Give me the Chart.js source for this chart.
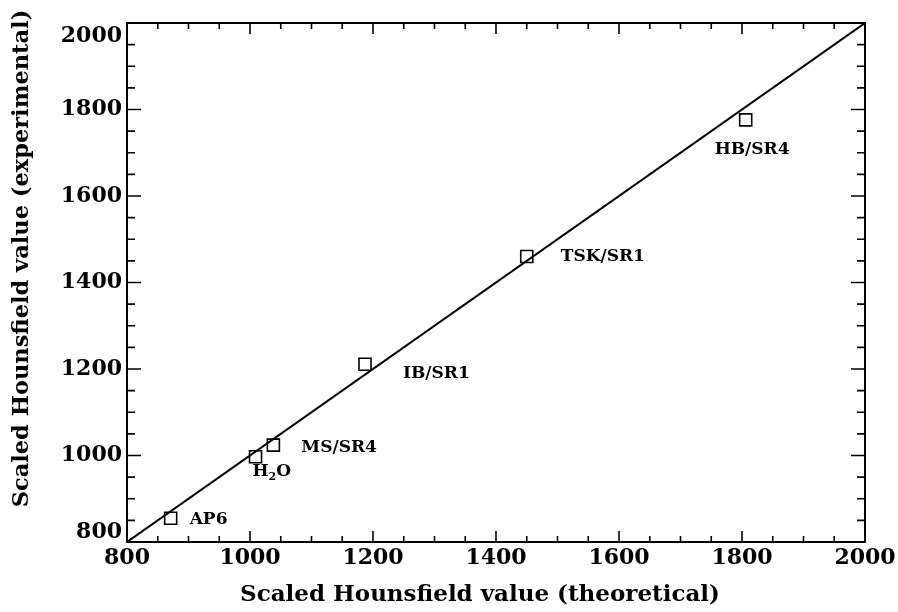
<!DOCTYPE html>
<html>
<head>
<meta charset="utf-8">
<script src="https://cdn.jsdelivr.net/npm/chart.js@4"></script>
<style>
  html, body { margin: 0; padding: 0; background: #fff; }
  canvas { display: block; }
</style>
</head>
<body>
<canvas id="chart" width="898" height="612"></canvas>
<script>
// axis ranges and labelled ticks
const xTickValues = [800, 1000, 1200, 1400, 1600, 1800, 2000];
const yTickValues = [800, 1000, 1200, 1400, 1600, 1800, 2000];
const minorStep = 50;

// measured samples
const sampleNames = ["AP6", "H2O", "MS/SR4", "IB/SR1", "TSK/SR1", "HB/SR4"];
const theoretical = [871, 1009, 1038, 1187, 1450, 1806];
const experimental = [855, 997, 1024, 1211, 1460, 1776];

// line of identity
const identityX = [800, 2000];
const identityY = [800, 2000];

const xTitle = "Scaled Hounsfield value (theoretical)";
const yTitle = "Scaled Hounsfield value (experimental)";

const serif = '"DejaVu Serif", "Liberation Serif", serif';

// label placement in pixels relative to each marker
const labelOffsets = {
    "AP6": [19, 1],
    "H2O": [-3, 15],
    "MS/SR4": [28, 2],
    "IB/SR1": [38, 9],
    "TSK/SR1": [34, 0],
    "HB/SR4": [-31, 30]
};

const axesPlugin = {
    id: "axesPlugin",
    afterDraw(chart) {
        const ctx = chart.ctx;
        const { left, right, top, bottom } = chart.chartArea;
        const xs = chart.scales.x;
        const ys = chart.scales.y;

        ctx.save();
        ctx.strokeStyle = "#000";
        ctx.fillStyle = "#000";

        // frame
        ctx.lineWidth = 2;
        ctx.strokeRect(left, top, right - left, bottom - top);

        // inward ticks on all four sides
        ctx.lineWidth = 1.6;
        ctx.beginPath();
        for (let v = xs.min; v <= xs.max; v += minorStep) {
            const major = xTickValues.includes(v);
            const len = major ? 11 : 6;
            const px = xs.getPixelForValue(v);
            ctx.moveTo(px, bottom); ctx.lineTo(px, bottom - len);
            ctx.moveTo(px, top); ctx.lineTo(px, top + len);
        }
        for (let v = ys.min; v <= ys.max; v += minorStep) {
            const major = yTickValues.includes(v);
            const len = major ? 14 : 8;
            const py = ys.getPixelForValue(v);
            ctx.moveTo(left, py); ctx.lineTo(left + len, py);
            ctx.moveTo(right, py); ctx.lineTo(right - len, py);
        }
        ctx.stroke();

        // tick labels
        ctx.font = "bold 22px " + serif;
        ctx.textAlign = "center";
        ctx.textBaseline = "middle";
        xTickValues.forEach(v => {
            ctx.fillText(String(v), xs.getPixelForValue(v), bottom + 16);
        });
        ctx.textAlign = "right";
        yTickValues.forEach(v => {
            let py = ys.getPixelForValue(v);
            py = Math.min(Math.max(py, top + 13), bottom - 10);
            ctx.fillText(String(v), left - 5, py);
        });

        // axis titles
        ctx.font = "bold 23px " + serif;
        ctx.textAlign = "center";
        ctx.fillText(xTitle, (left + right) / 2 - 16, bottom + 53);
        ctx.save();
        ctx.font = "bold 22.5px " + serif;
        ctx.translate(22, (top + bottom) / 2 - 24);
        ctx.rotate(-Math.PI / 2);
        ctx.fillText(yTitle, 0, 0);
        ctx.restore();

        // sample labels
        ctx.textAlign = "left";
        sampleNames.forEach((name, i) => {
            const off = labelOffsets[name];
            const x = xs.getPixelForValue(theoretical[i]) + off[0];
            const y = ys.getPixelForValue(experimental[i]) + off[1];
            if (name === "H2O") {
                ctx.font = "bold 17px " + serif;
                ctx.fillText("H", x, y);
                let w = ctx.measureText("H").width;
                ctx.font = "bold 11px " + serif;
                ctx.fillText("2", x + w, y + 5);
                w += ctx.measureText("2").width;
                ctx.font = "bold 17px " + serif;
                ctx.fillText("O", x + w, y);
            } else {
                ctx.font = "bold 17px " + serif;
                ctx.fillText(name, x, y);
            }
        });

        ctx.restore();
    }
};

new Chart(document.getElementById("chart"), {
    type: "scatter",
    data: {
        datasets: [
            {
                type: "line",
                data: identityX.map((x, i) => ({ x: x, y: identityY[i] })),
                borderColor: "#000",
                borderWidth: 2,
                pointRadius: 0,
                fill: false
            },
            {
                data: theoretical.map((x, i) => ({ x: x, y: experimental[i] })),
                pointStyle: "rect",
                pointRadius: 8.5,
                backgroundColor: "#fff",
                borderColor: "#000",
                borderWidth: 1.6
            }
        ]
    },
    options: {
        responsive: false,
        animation: false,
        devicePixelRatio: 1,
        layout: { padding: { left: 127, right: 33, top: 23, bottom: 70 } },
        plugins: {
            legend: { display: false },
            tooltip: { enabled: false }
        },
        scales: {
            x: { type: "linear", min: 800, max: 2000, display: false },
            y: { type: "linear", min: 800, max: 2000, display: false }
        }
    },
    plugins: [axesPlugin]
});
</script>
</body>
</html>
